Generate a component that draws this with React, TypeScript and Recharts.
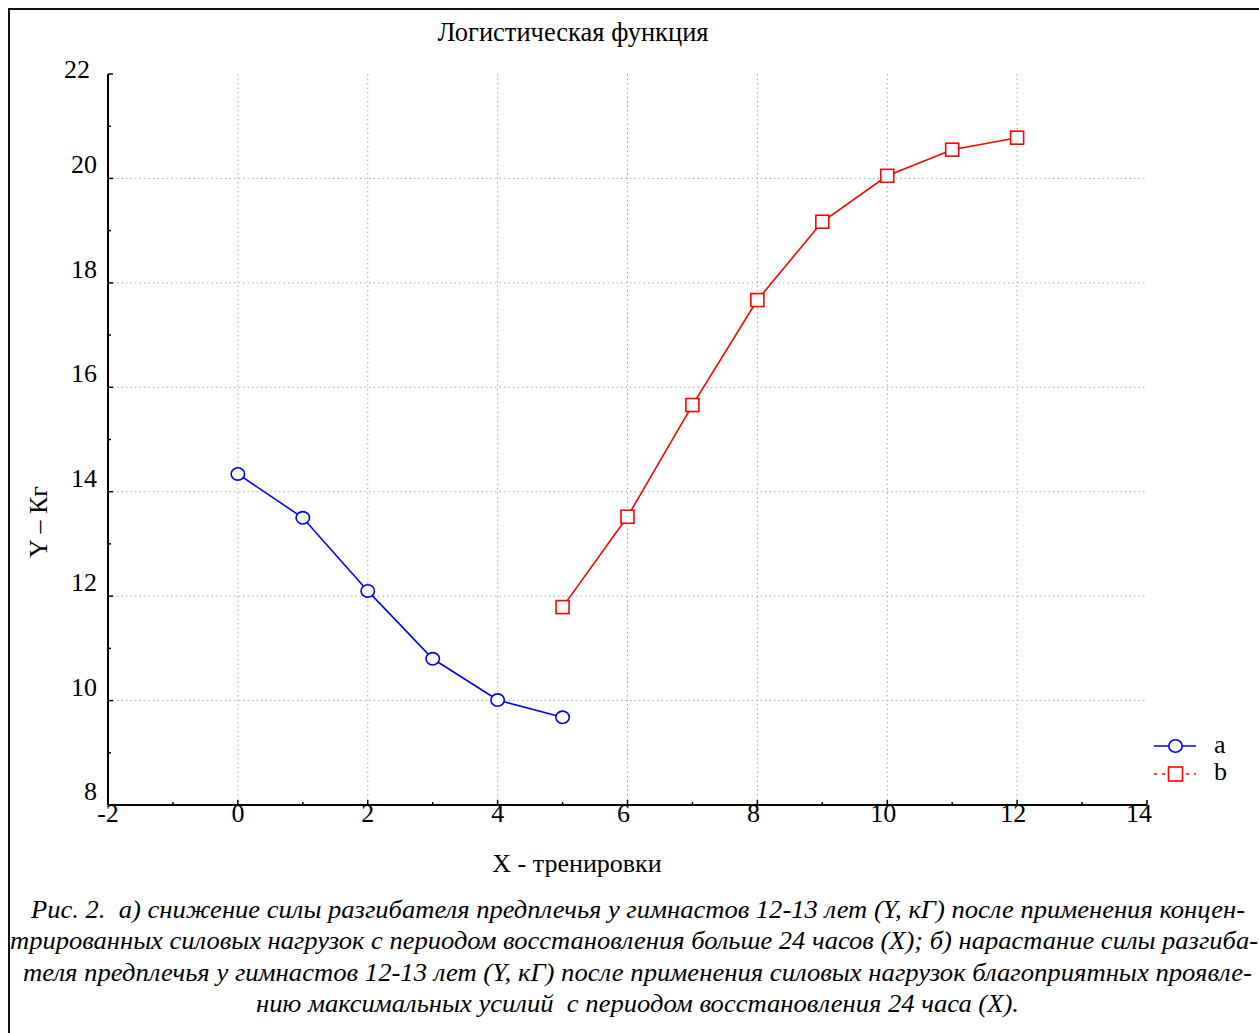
import React from 'react';
import { LineChart, Line, XAxis, YAxis, CartesianGrid } from 'recharts';

// ---- data ----
const xTicks = [-2, -1, 0, 1, 2, 3, 4, 5, 6, 7, 8, 9, 10, 11, 12, 13, 14];
const yTicks = [8, 9, 10, 11, 12, 13, 14, 15, 16, 17, 18, 19, 20, 21, 22];
const gridX = [0, 2, 4, 6, 8, 10, 12];
const gridY = [10, 12, 14, 16, 18, 20];

const seriesAX = [0, 1, 2, 3, 4, 5];
const seriesAY = [14.34, 13.5, 12.1, 10.8, 10.01, 9.68];
const seriesBX = [5, 6, 7, 8, 9, 10, 11, 12];
const seriesBY = [11.79, 13.52, 15.66, 17.67, 19.17, 20.05, 20.55, 20.78];

const seriesNames = ['a', 'b'];
const seriesColors = ['#0000FF', '#FF0000'];

const titleText = 'Логистическая функция';
const xLabelText = 'X - тренировки';
const yLabelText = 'Y – Кг';
const captionLines = [
  'Рис. 2.  а) снижение силы разгибателя предплечья у гимнастов 12-13 лет (Y, кГ) после применения концен-',
  'трированных силовых нагрузок с периодом восстановления больше 24 часов (X); б) нарастание силы разгиба-',
  'теля предплечья у гимнастов 12-13 лет (Y, кГ) после применения силовых нагрузок благоприятных проявле-',
  'нию максимальных усилий  с периодом восстановления 24 часа (X).',
];

const dataA = seriesAX.map((x, i) => ({ x, y: seriesAY[i] }));
const dataB = seriesBX.map((x, i) => ({ x, y: seriesBY[i] }));

const FONT = '"Liberation Serif", "Times New Roman", serif';
const FS = 26;

const BottomTick = (props: any) => {
  const { x, y, payload } = props;
  const v = payload.value;
  const major = v % 2 === 0;
  let dx = 0;
  if (v >= 6) dx = -4;
  if (v === 14) dx = -8;
  return (
    <g>
      <line x1={x} y1={y} x2={x} y2={y - (major ? 5 : 3)} stroke="#000" strokeWidth={1.5} />
      {major && (
        <text x={x + dx} y={y + 17} textAnchor="middle" fontFamily={FONT} fontSize={FS} fill="#000">
          {v}
        </text>
      )}
    </g>
  );
};

const TopTick = (props: any) => {
  const { x, y, payload } = props;
  const major = payload.value % 2 === 0;
  return <line x1={x} y1={y} x2={x} y2={y + (major ? 5 : 3)} stroke="#000" strokeWidth={1.5} />;
};

const LeftTick = (props: any) => {
  const { x, y, payload } = props;
  const v = payload.value;
  const major = v % 2 === 0;
  const isTop = v === 22;
  return (
    <g>
      <line x1={x} y1={y} x2={x + (major ? 5 : 3)} y2={y} stroke="#000" strokeWidth={1.5} />
      {major && (
        <text
          x={isTop ? x - 18 : x - 11}
          y={isTop ? y + 4 : y - 5}
          textAnchor="end"
          fontFamily={FONT}
          fontSize={FS}
          fill="#000"
        >
          {v}
        </text>
      )}
    </g>
  );
};

const RightTick = (props: any) => {
  const { x, y, payload } = props;
  const major = payload.value % 2 === 0;
  return <line x1={x} y1={y} x2={x - (major ? 5 : 3)} y2={y} stroke="#000" strokeWidth={1.5} />;
};

const CircleDot = (props: any) => {
  const { cx, cy } = props;
  if (cx == null || cy == null) return null;
  return <ellipse cx={cx} cy={cy} rx={6.7} ry={6.2} fill="#fff" stroke={seriesColors[0]} strokeWidth={1.6} />;
};

const SquareDot = (props: any) => {
  const { cx, cy } = props;
  if (cx == null || cy == null) return null;
  return <rect x={cx - 6.5} y={cy - 6.5} width={13} height={13} fill="#fff" stroke={seriesColors[1]} strokeWidth={1.6} />;
};

export default function App() {
  const capStyle: React.CSSProperties = { whiteSpace: 'pre' };
  return (
    <div style={{ position: 'relative', width: 1259, height: 1033, background: '#fff' }}>
      <style>{`html,body{margin:0;padding:0;overflow:hidden;background:#fff}`}</style>
      <div
        style={{
          position: 'absolute',
          left: 8,
          top: 8,
          width: 1251,
          height: 1025,
          boxSizing: 'border-box',
          borderLeft: '2px solid #111',
          borderTop: '2px solid #111',
        }}
      />
      <div style={{ position: 'absolute', left: 0, top: 0 }}>
        <LineChart width={1259} height={1033} margin={{ top: 74, right: 112, bottom: 198, left: 48 }}>
          <CartesianGrid
            horizontal
            vertical
            horizontalValues={gridY}
            verticalValues={gridX}
            stroke="#a8a8a8"
            strokeDasharray="1.5 3"
            strokeWidth={1}
          />
          <XAxis
            xAxisId={0}
            dataKey="x"
            type="number"
            domain={[-2, 14]}
            ticks={xTicks}
            interval={0}
            allowDataOverflow
            height={30}
            tickSize={0}
            tickMargin={0}
            axisLine={{ stroke: '#000', strokeWidth: 2 }}
            tickLine={false}
            tick={<BottomTick />}
          />
          <XAxis
            xAxisId="top"
            orientation="top"
            dataKey="x"
            type="number"
            domain={[-2, 14]}
            ticks={xTicks}
            interval={0}
            allowDataOverflow
            height={0}
            tickSize={0}
            tickMargin={0}
            axisLine={{ stroke: '#000', strokeWidth: 2 }}
            tickLine={false}
            tick={<TopTick />}
          />
          <YAxis
            yAxisId={0}
            type="number"
            domain={[8, 22]}
            ticks={yTicks}
            interval={0}
            allowDataOverflow
            width={60}
            tickSize={0}
            tickMargin={0}
            axisLine={{ stroke: '#000', strokeWidth: 2 }}
            tickLine={false}
            tick={<LeftTick />}
          />
          <YAxis
            yAxisId="right"
            orientation="right"
            type="number"
            domain={[8, 22]}
            ticks={yTicks}
            interval={0}
            allowDataOverflow
            width={0}
            tickSize={0}
            tickMargin={0}
            axisLine={{ stroke: '#000', strokeWidth: 2 }}
            tickLine={false}
            tick={<RightTick />}
          />
          <Line
            data={dataA}
            dataKey="y"
            name={seriesNames[0]}
            type="linear"
            stroke={seriesColors[0]}
            strokeWidth={1.6}
            dot={<CircleDot />}
            activeDot={false}
            isAnimationActive={false}
          />
          <Line
            data={dataB}
            dataKey="y"
            name={seriesNames[1]}
            type="linear"
            stroke={seriesColors[1]}
            strokeWidth={1.6}
            dot={<SquareDot />}
            activeDot={false}
            isAnimationActive={false}
          />
        </LineChart>
      </div>
      <svg
        width={1259}
        height={1033}
        style={{ position: 'absolute', left: 0, top: 0, pointerEvents: 'none' }}
      >
        <text x={573} y={41} textAnchor="middle" fontFamily={FONT} fontSize={26.5} fill="#000">
          {titleText}
        </text>
        <text x={577} y={872} textAnchor="middle" fontFamily={FONT} fontSize={FS} fill="#000">
          {xLabelText}
        </text>
        <text
          transform="translate(47,522) rotate(-90)"
          x={0}
          y={0}
          textAnchor="middle"
          fontFamily={FONT}
          fontSize={FS}
          fill="#000"
        >
          {yLabelText}
        </text>
        {/* legend */}
        <g>
          <line x1={1154} y1={746} x2={1196} y2={746} stroke={seriesColors[0]} strokeWidth={1.6} />
          <ellipse cx={1175.5} cy={746} rx={6.7} ry={6.2} fill="#fff" stroke={seriesColors[0]} strokeWidth={1.6} />
          <text x={1214} y={753} fontFamily={FONT} fontSize={FS} fill="#000">{seriesNames[0]}</text>
          <line x1={1154} y1={774} x2={1196} y2={774} stroke={seriesColors[1]} strokeWidth={1.6} strokeDasharray="3 5" />
          <rect x={1168.5} y={767} width={14} height={14} fill="#fff" stroke={seriesColors[1]} strokeWidth={1.6} />
          <text x={1214} y={780} fontFamily={FONT} fontSize={FS} fill="#000">{seriesNames[1]}</text>
        </g>
        {/* caption */}
        <g fontFamily={FONT} fontSize={FS} fontStyle="italic" fill="#000">
          <text x={31} y={918} textLength={1214} lengthAdjust="spacingAndGlyphs" style={capStyle} xmlSpace="preserve">{captionLines[0]}</text>
          <text x={10} y={949} textLength={1248} lengthAdjust="spacingAndGlyphs" style={capStyle} xmlSpace="preserve">{captionLines[1]}</text>
          <text x={23} y={981} textLength={1229} lengthAdjust="spacingAndGlyphs" style={capStyle} xmlSpace="preserve">{captionLines[2]}</text>
          <text x={256} y={1012} textLength={763} lengthAdjust="spacingAndGlyphs" style={capStyle} xmlSpace="preserve">{captionLines[3]}</text>
        </g>
      </svg>
    </div>
  );
}
